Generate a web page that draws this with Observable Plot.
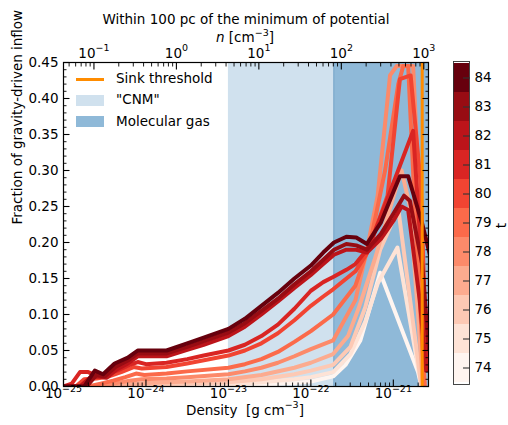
<!DOCTYPE html>
<html><head><meta charset="utf-8">
<script src="https://cdn.jsdelivr.net/npm/d3@7"></script>
<script src="https://cdn.jsdelivr.net/npm/@observablehq/plot@0.6"></script>
<style>
html,body{margin:0;padding:0;background:#fff;}
#wrap{position:relative;width:508px;height:425px;font-family:"DejaVu Sans",sans-serif;}
#wrap svg{position:absolute;top:0;}
.lg{position:absolute;font-size:13.5px;color:#000;white-space:nowrap;line-height:1;}
.sw{position:absolute;}
</style></head><body><div id="wrap"></div>
<script>
// ---- data: [log10(density g/cm^3), fraction of gravity-driven inflow] ----
const times = [74,75,76,77,78,79,80,81,82,83,84];
const t74 = [[-25,0],[-23.5,0],[-23.0,0.001],[-22.6,0.003],[-22.2,0.005],[-22.0,0.007],[-21.73,0.014],[-21.58,0.03],[-21.4,0.064],[-21.16,0.158],[-20.7,0.02],[-20.66,0.0]];
const t75 = [[-25,0],[-24,0],[-23.5,0.001],[-23.0,0.003],[-22.6,0.006],[-22.2,0.01],[-22.0,0.013],[-21.73,0.02],[-21.52,0.045],[-21.34,0.09],[-21.19,0.143],[-20.95,0.193],[-20.66,0.0]];
const t76 = [[-25,0],[-24.3,0],[-24.0,0.002],[-23.5,0.004],[-23.0,0.006],[-22.6,0.01],[-22.2,0.017],[-22.0,0.022],[-21.73,0.03],[-21.52,0.055],[-21.34,0.11],[-21.16,0.19],[-20.94,0.247],[-20.66,0.0]];
const t77 = [[-25,0],[-24.5,0],[-24.2,0.003],[-24.0,0.005],[-23.5,0.007],[-23.0,0.01],[-22.6,0.016],[-22.2,0.026],[-22.0,0.033],[-21.73,0.045],[-21.55,0.07],[-21.42,0.109],[-21.23,0.175],[-21.06,0.24],[-20.94,0.286],[-20.9,0.3],[-20.8,0.25],[-20.7,0.1],[-20.64,0.0]];
const t78 = [[-25,0],[-24.6,0],[-24.4,0.004],[-24.2,0.008],[-24.05,0.01],[-23.75,0.011],[-23.5,0.013],[-23.0,0.017],[-22.8,0.021],[-22.6,0.026],[-22.4,0.033],[-22.2,0.042],[-22.0,0.052],[-21.73,0.064],[-21.46,0.12],[-21.32,0.19],[-21.19,0.265],[-21.04,0.432],[-20.96,0.445],[-20.76,0.445],[-20.7,0.3],[-20.62,0.0]];
const t79 = [[-25,0],[-24.7,0],[-24.55,0.004],[-24.4,0.008],[-24.25,0.013],[-24.12,0.018],[-24.02,0.016],[-23.75,0.018],[-23.5,0.021],[-23.0,0.026],[-22.8,0.031],[-22.6,0.038],[-22.4,0.048],[-22.2,0.062],[-22.0,0.077],[-21.73,0.1],[-21.46,0.14],[-21.28,0.2],[-21.1,0.3],[-20.94,0.42],[-20.88,0.445],[-20.82,0.445],[-20.72,0.2],[-20.62,0.0]];
const t80 = [[-25,0],[-24.85,0],[-24.75,0.01],[-24.6,0.011],[-24.45,0.014],[-24.3,0.02],[-24.15,0.027],[-24.05,0.025],[-23.75,0.027],[-23.5,0.032],[-23.0,0.043],[-22.8,0.05],[-22.6,0.06],[-22.4,0.074],[-22.2,0.092],[-22.0,0.112],[-21.85,0.125],[-21.73,0.135],[-21.46,0.16],[-21.32,0.185],[-21.07,0.265],[-20.92,0.427],[-20.79,0.432],[-20.67,0.284],[-20.6,0.05]];
const t81 = [[-25,0],[-24.9,0.004],[-24.8,0.02],[-24.7,0.02],[-24.6,0.015],[-24.5,0.017],[-24.35,0.022],[-24.2,0.03],[-24.1,0.034],[-24.0,0.031],[-23.75,0.033],[-23.5,0.038],[-23.3,0.043],[-23.0,0.05],[-22.8,0.058],[-22.6,0.07],[-22.4,0.086],[-22.2,0.108],[-22.0,0.133],[-21.85,0.145],[-21.73,0.152],[-21.57,0.162],[-21.46,0.17],[-21.32,0.19],[-21.25,0.207],[-20.76,0.355],[-20.64,0.143],[-20.58,0.02]];
const t82 = [[-25,0],[-24.8,0],[-24.68,0.012],[-24.58,0.014],[-24.48,0.012],[-24.35,0.024],[-24.22,0.032],[-24.1,0.042],[-23.75,0.042],[-23.5,0.051],[-23.3,0.058],[-23.0,0.07],[-22.8,0.083],[-22.6,0.1],[-22.4,0.118],[-22.2,0.137],[-22.0,0.155],[-21.85,0.17],[-21.72,0.183],[-21.57,0.19],[-21.45,0.19],[-21.32,0.186],[-21.15,0.205],[-21.0,0.23],[-20.9,0.25],[-20.82,0.245],[-20.68,0.12],[-20.6,0.02]];
const t83 = [[-25,0],[-24.72,0],[-24.6,0.016],[-24.5,0.014],[-24.36,0.028],[-24.22,0.036],[-24.1,0.046],[-23.75,0.046],[-23.5,0.055],[-23.3,0.063],[-23.0,0.075],[-22.8,0.088],[-22.6,0.105],[-22.4,0.122],[-22.2,0.142],[-22.0,0.16],[-21.85,0.176],[-21.72,0.19],[-21.57,0.198],[-21.45,0.196],[-21.32,0.19],[-21.15,0.212],[-21.0,0.24],[-20.87,0.265],[-20.8,0.258],[-20.65,0.17],[-20.57,0.05]];
const t84 = [[-25,0],[-24.75,0],[-24.62,0.022],[-24.52,0.017],[-24.38,0.032],[-24.22,0.04],[-24.1,0.05],[-23.75,0.05],[-23.5,0.06],[-23.3,0.068],[-23.0,0.08],[-22.8,0.094],[-22.6,0.112],[-22.4,0.13],[-22.2,0.15],[-22.0,0.168],[-21.85,0.186],[-21.72,0.2],[-21.57,0.208],[-21.45,0.207],[-21.32,0.198],[-21.15,0.228],[-21.0,0.27],[-20.92,0.292],[-20.82,0.292],[-20.65,0.226],[-20.55,0.18]];
const series = [t74,t75,t76,t77,t78,t79,t80,t81,t82,t83,t84];
const colors = ["#fff5f0","#fee3d6","#fdc9b4","#fcab8f","#fc8a6a","#fb6a4a","#f14432","#d92523","#bc141a","#980c13","#67000d"];

// regions / thresholds (density, g cm^-3)
const cnmRange = [1e-23, 1.9e-22];
const molRange = [1.9e-22, 1e-20];
const sinkThreshold = 2.24e-21;
const xDomain = [1e-25, 2.67e-21];
const yDomain = [0, 0.45];
const muMH = 2.34e-24; // n = rho / (mu m_H)

// tick labels
const rhoExps = [-25,-24,-23,-22,-21];
const nExps = [-1,0,1,2,3];
const yTicks = [0,0.05,0.10,0.15,0.20,0.25,0.30,0.35,0.40,0.45];
const cbTicks = times;

const inDom = v => v >= xDomain[0]*0.999 && v <= xDomain[1];
const rhoMajor = rhoExps.map(e => 10**e);
const rhoMinor = rhoExps.flatMap(e => d3.range(2,10).map(m => m*10**e)).filter(inDom);
const nMajor = nExps.map(e => 10**e*muMH);
const nMinor = [-2,-1,0,1,2,3].flatMap(e => d3.range(2,10).map(m => m*10**e*muMH)).filter(inDom);
const yMinor = d3.range(0,46).map(i => i/100);
const pow = e => "10^{" + (e < 0 ? "\u2212" + (-e) : e) + "}";

const lines = times.flatMap((t,i) => series[i].map(([L,f]) => ({t, rho: 10**L, f})));

const FS = 13.5;
const tickStyle = {stroke:"#000", tickFormat: () => "", label: null};
const lab = {tickSize: 0, fill: "#000", label: null};
const main = Plot.plot({
  width: 508, height: 425,
  marginLeft: 63, marginRight: 80, marginTop: 62, marginBottom: 39,
  style: {fontFamily: "DejaVu Sans", fontSize: FS+"px", color: "#000", background: "transparent"},
  x: {type: "log", domain: xDomain, axis: null},
  y: {domain: yDomain, axis: null},
  color: {type: "ordinal", domain: times, range: colors},
  marks: [
    Plot.rect([cnmRange], {x1: d => d[0], x2: d => d[1], fill: "#d0e1ee"}),
    Plot.rect([molRange], {x1: d => d[0], x2: d => d[1], fill: "#8fb9d8", clip: true}),
    Plot.ruleX([molRange[0]], {stroke: "#78a5c9", strokeWidth: 1}),
    Plot.line(lines, {x: "rho", y: "f", z: "t", stroke: "t", strokeWidth: 4, strokeLinejoin: "round", strokeLinecap: "butt", clip: true}),
    Plot.ruleX([sinkThreshold], {stroke: "#ff8c00", strokeWidth: 3}),
    // ticks (inward)
    Plot.axisX({anchor: "bottom", ticks: rhoMajor, tickSize: -6.5, strokeWidth: 1.1, ...tickStyle}),
    Plot.axisX({anchor: "bottom", ticks: rhoMinor, tickSize: -3.5, strokeWidth: 0.9, ...tickStyle}),
    Plot.axisX({anchor: "top", ticks: nMajor, tickSize: -6.5, strokeWidth: 1.1, ...tickStyle}),
    Plot.axisX({anchor: "top", ticks: nMinor, tickSize: -3.5, strokeWidth: 0.9, ...tickStyle}),
    Plot.axisY({anchor: "left", ticks: yTicks, tickSize: -6.5, strokeWidth: 1.1, ...tickStyle}),
    Plot.axisY({anchor: "left", ticks: yMinor, tickSize: -3.5, strokeWidth: 0.9, ...tickStyle}),
    Plot.axisY({anchor: "right", ticks: yTicks, tickSize: -6.5, strokeWidth: 1.1, ...tickStyle}),
    Plot.axisY({anchor: "right", ticks: yMinor, tickSize: -3.5, strokeWidth: 0.9, ...tickStyle}),
    // tick labels
    Plot.axisX({anchor: "bottom", ticks: rhoMajor, tickPadding: 2, ...lab,
      tickFormat: d => pow(Math.round(Math.log10(d)))}),
    Plot.axisX({anchor: "top", ticks: nMajor, tickPadding: 5, ...lab,
      tickFormat: d => pow(Math.round(Math.log10(d/muMH)))}),
    Plot.axisY({anchor: "left", ticks: yTicks, tickPadding: 5, ...lab,
      tickFormat: d => d.toFixed(2)}),
    Plot.frame({stroke: "#000", strokeWidth: 1.2}),
    // titles
    Plot.text(["Within 100 pc of the minimum of potential"], {text: d => d, frameAnchor: "top", dy: -48, fontSize: FS, fill: "#000"}),
    Plot.text(["*n* [cm^{\u22123}]"], {text: d => d, frameAnchor: "top", dy: -30, dx: -1, fontSize: FS, fill: "#000"}),
    Plot.text(["Density \u00A0[g cm^{\u22123}]"], {text: d => d, frameAnchor: "bottom", dy: 28, dx: -1, fontSize: FS, fill: "#000"}),
    Plot.text(["Fraction of gravity-driven inflow"], {text: d => d, frameAnchor: "left", dx: -46, rotate: -90, fontSize: FS, fill: "#000"})
  ]
});

const cbar = Plot.plot({
  width: 68, height: 425,
  marginLeft: 13, marginRight: 39, marginTop: 61, marginBottom: 41,
  style: {fontFamily: "DejaVu Sans", fontSize: FS+"px", color: "#000", background: "transparent"},
  x: {domain: [0,1], axis: null},
  y: {type: "band", domain: times.slice().reverse(), padding: 0, axis: null},
  color: {type: "ordinal", domain: times, range: colors},
  marks: [
    Plot.barX(times, {x1: 0, x2: 1, y: d => d, fill: d => d, inset: 0}),
    Plot.axisY({anchor: "right", ticks: cbTicks, tickSize: -7, stroke: "#333", strokeWidth: 1.1, tickFormat: () => "", label: null}),
    Plot.axisY({anchor: "right", ticks: cbTicks, tickSize: 0, tickPadding: 5, fill: "#000", label: null}),
    Plot.frame({stroke: "#333", strokeWidth: 0.9}),
    Plot.text(["t"], {text: d => d, frameAnchor: "right", dx: 32, rotate: -90, fontSize: FS, fill: "#000"})
  ]
});

// rich text: ^{...} superscript, *...* italic
const NS = "http://www.w3.org/2000/svg";
function richify(svg) {
  svg.querySelectorAll("text").forEach(t => {
    const s = t.textContent;
    if (!/\^\{|\*/.test(s)) return;
    const parts = s.split(/(\^\{[^}]*\}|\*[^*]+\*)/).filter(p => p !== "");
    while (t.firstChild) t.removeChild(t.firstChild);
    let raised = false;
    const raise = 6.5;
    parts.forEach(p => {
      const ts = document.createElementNS(NS, "tspan");
      if (p.startsWith("^{")) {
        ts.textContent = p.slice(2, -1);
        ts.setAttribute("font-size", "9.5");
        ts.setAttribute("dy", -raise);
        raised = true;
      } else if (p.startsWith("*")) {
        ts.textContent = p.slice(1, -1);
        ts.setAttribute("font-style", "italic");
        if (raised) { ts.setAttribute("dy", raise); raised = false; }
      } else {
        ts.textContent = p;
        if (raised) { ts.setAttribute("dy", raise); raised = false; }
      }
      t.appendChild(ts);
    });
  });
}
richify(main);

const wrap = document.getElementById("wrap");
main.style.left = "0px";
cbar.style.left = "440px";
wrap.appendChild(main);
wrap.appendChild(cbar);

// legend (inside axes, upper left)
const legendItems = [
  {label: "Sink threshold", kind: "line", color: "#ff8c00"},
  {label: "\"CNM\"", kind: "rect", color: "#d0e1ee"},
  {label: "Molecular gas", kind: "rect", color: "#8fb9d8"}
];
legendItems.forEach((it, i) => {
  const cy = 79 + i*21.3;
  const sw = document.createElement("div");
  sw.className = "sw";
  sw.style.left = "76px"; sw.style.width = "28px";
  if (it.kind === "line") { sw.style.top = (cy-1.5)+"px"; sw.style.height = "3px"; }
  else { sw.style.top = (cy-5.5)+"px"; sw.style.height = "11px"; }
  sw.style.background = it.color;
  wrap.appendChild(sw);
  const tx = document.createElement("div");
  tx.className = "lg";
  tx.textContent = it.label;
  tx.style.left = "116px"; tx.style.top = (cy-7)+"px";
  wrap.appendChild(tx);
});
</script></body></html>
